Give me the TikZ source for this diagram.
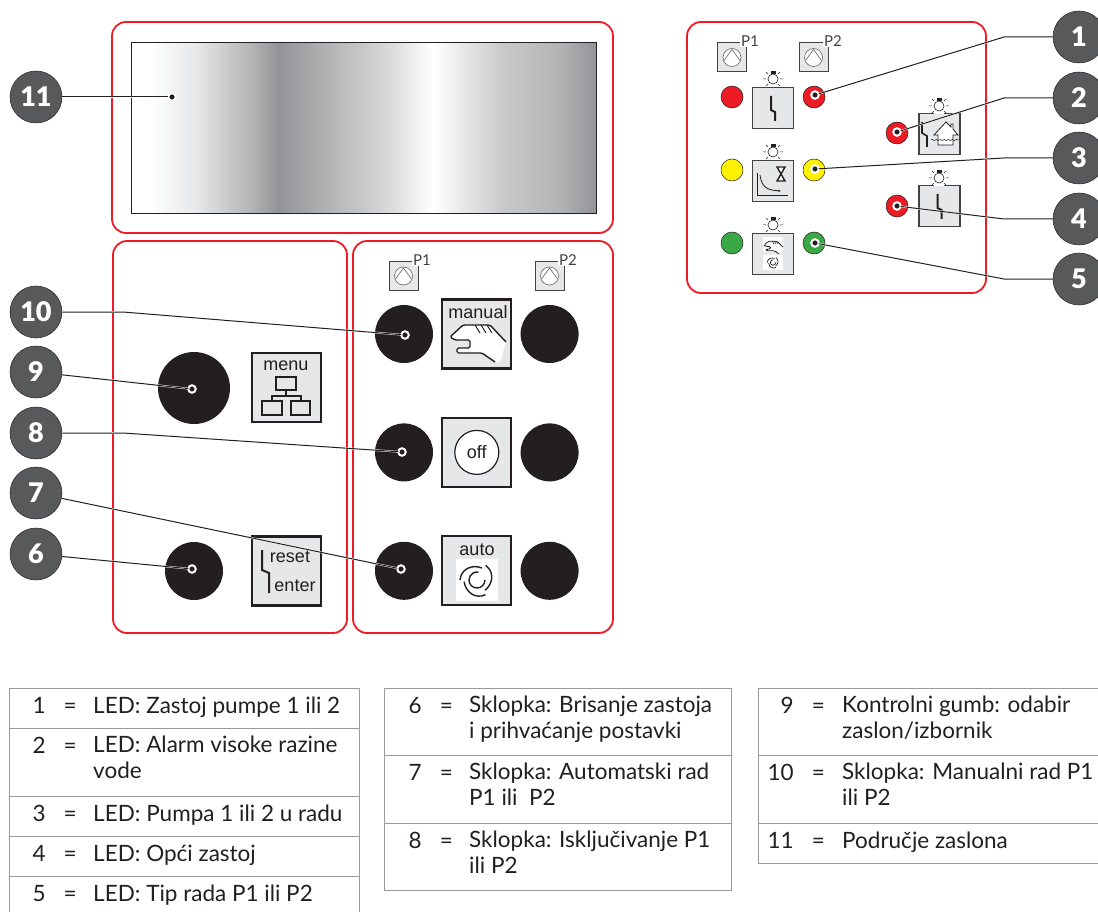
\documentclass[tikz,border=0pt]{standalone}
\usepackage{tikz}
\usepackage{fontspec}
\setmainfont{Liberation Sans}
\newfontfamily\legendfont{Lato}
\newfontfamily\calloutfont{Lato Black}
\usetikzlibrary{arrows.meta, positioning, decorations.pathmorphing}

\definecolor{panelred}{HTML}{ED1C24}
\definecolor{inkblack}{HTML}{231F20}
\definecolor{calloutgray}{HTML}{58595B}
\definecolor{boxgray}{HTML}{E6E7E8}
\definecolor{rulegray}{HTML}{999A9C}
\definecolor{ledyellow}{HTML}{FFF200}
\definecolor{ledgreen}{HTML}{39A845}
\definecolor{displaygray}{HTML}{929497}

\pgfdeclarehorizontalshading{displayglow}{100bp}{
color(0bp)=(white); color(25bp)=(white); color(27bp)=(white);
color(32bp)=(boxgray); color(38bp)=(displaygray!70); color(40.8bp)=(displaygray);
color(46bp)=(displaygray!72); color(52bp)=(displaygray!40); color(57.5bp)=(white);
color(65bp)=(displaygray!50); color(71bp)=(displaygray!70); color(75bp)=(displaygray);
color(100bp)=(displaygray)}

\begin{document}
\begin{tikzpicture}[
x=1pt, y=-1pt,
node distance=8pt,
panel/.style={draw=panelred, line width=1.8pt, rounded corners=14pt, minimum width=#1},
knob/.style={circle, fill=inkblack, inner sep=0pt, minimum size=#1},
knob/.default=58pt,
led/.style={circle, fill=#1, draw=inkblack, line width=0.5pt, inner sep=0pt, minimum size=22pt},
spot/.style={circle, fill=inkblack, draw=white, line width=2pt, inner sep=0pt, outer sep=0pt, minimum size=7.5pt},
callout/.style={circle, fill=calloutgray, draw=inkblack, line width=0.5pt, text=white, inner sep=0pt, minimum size=52pt, font=\calloutfont\fontsize{27}{27}\selectfont},
leader/.style={draw=inkblack, line width=1pt, preaction={draw=white, line width=1.8pt}},
button/.style={draw=inkblack, line width=2.2pt, fill=boxgray, inner sep=0pt, minimum size=69pt},
iconbox/.style={draw=inkblack!85, line width=1.2pt, fill=boxgray, inner sep=0pt, minimum size=41pt},
pumpbox/.style={draw=inkblack!85, line width=1pt, fill=boxgray, inner sep=0pt, minimum size=29pt},
tag/.style={fill=white, inner sep=1pt, text=inkblack!85, font=\legendfont\fontsize{15}{15}\selectfont},
caption/.style={inner sep=0pt, text=inkblack, font=\fontsize{18}{18}\selectfont},
whitepatch/.style={fill=white, inner sep=0pt, minimum size=#1},
legendnum/.style={anchor=north east, inner sep=0pt, text=inkblack, font=\legendfont\fontsize{22.5}{26}\selectfont, execute at begin node={\strut}},
legendtxt/.style={anchor=north west, inner sep=0pt, align=left, text=inkblack, font=\legendfont\fontsize{22.5}{26}\selectfont, execute at begin node={\strut}},
legendrule/.style={draw=rulegray, line width=1pt},
bolt/.pic={\draw[inkblack, line width=2pt] (-2,-12) -- (-2,2) -- (2,4) -- (2,13);},
lamp/.pic={
  \fill[white] (-5,5) rectangle (5,8.5);
  \draw[inkblack, line width=0.6pt] (0,0) circle[radius=5];
  \fill[inkblack] (-2.5,-8) rectangle (2.5,-5);
  \draw[inkblack, line width=0.5pt] (0:7) -- (0:10) (180:7) -- (180:10) (45:7) -- (45:10) (135:7) -- (135:10) (-45:7) -- (-45:10) (-135:7) -- (-135:10);
},
pump/.pic={
  \draw[inkblack!70, fill=white, line width=0.6pt] (0,0) circle[radius=9];
  \draw[inkblack!70, line width=0.6pt] (-8,3) -- (0,-8) -- (8,3);
},
fan/.pic={
  \draw[inkblack, line width=#1] (-17,0) .. controls (-16,-11) and (-5,-16) .. (5,-12);
  \draw[inkblack, line width=#1, rotate=120] (-17,0) .. controls (-16,-11) and (-5,-16) .. (5,-12);
  \draw[inkblack, line width=#1, rotate=240] (-17,0) .. controls (-16,-11) and (-5,-16) .. (5,-12);
  \draw[inkblack, line width=#1] (8,0) arc[start angle=0, end angle=280, radius=8];
},
hand/.pic={
  \fill[white] (-27,4) -- (-14,-8) -- (13,-8) -- (29,9) -- (23,29) -- (18,29) -- (5,20) -- (-20,20) -- (-20,15) -- (-7,15) -- (-7,7) -- (-22,7) -- cycle;
  \draw[inkblack, line width=#1, line join=round, rounded corners=1.5pt] (18,29) -- (5,20) -- (-20,20) -- (-20,15) -- (-7,15) -- (-7,7) -- (-22,7) -- (-27,4) -- (-14,-8) -- (13,-8) -- (29,9);
  \draw[inkblack, line width=0.7*#1] (-2,-8) -- (3,0) (4,-8) -- (9,0) (10,-8) -- (15,0);
}
]
\useasboundingbox (0,0) rectangle (1098,912);

% red panels
\node[panel=501pt, minimum height=211pt] (panelDisplay) at (362.5,127.5) {};
\node[panel=234pt, minimum height=392pt] (panelMenu) at (230,437) {};
\node[panel=260pt, minimum height=392pt] (panelMode) at (483,437) {};
\node[panel=299pt, minimum height=271pt] (panelLeds) at (836.5,157.5) {};

% display
\node[draw=inkblack, line width=1pt, shade, shading=displayglow, inner sep=0pt, minimum width=465pt, minimum height=171pt] (display) at (363.5,128.5) {};
\node[spot] (spotDisplay) at (172,97) {};

% menu and reset
\node[knob=72pt] (knobMenu) at (194,388) {};
\node[spot] (spotMenu) at (192,389) {};
\node[button] (btnMenu) at (286.5,387.5) {};
\node[caption] (txtMenu) at (286,366) {menu};
\draw[inkblack, line width=1.2pt] (276,377) rectangle (296,390) (262,401) rectangle (282,415) (291,401) rectangle (310,415) (286,390) -- (286,396) (272,401) -- (272,396) -- (301,396) -- (301,401);
\node[knob] (knobReset) at (194,571) {};
\node[spot] (spotReset) at (192,569) {};
\node[button] (btnReset) at (286.5,571) {};
\draw[inkblack, line width=2pt] (262,550) -- (262,570) -- (269,573) -- (269,593);
\node[caption] (txtReset) at (290,557) {reset};
\node[caption] (txtEnter) at (295,586) {enter};

% mode buttons
\node[knob] (knobManualL) at (404,334) {};
\node[button, right=of knobManualL] (btnManual) {};
\node[knob, right=of btnManual] (knobManualR) {};
\node[knob, below=60pt of knobManualL] (knobOffL) {};
\node[button, right=of knobOffL] (btnOff) {};
\node[knob, right=of btnOff] (knobOffR) {};
\node[knob, below=60pt of knobOffL] (knobAutoL) {};
\node[button, right=of knobAutoL] (btnAuto) {};
\node[knob, right=of btnAuto] (knobAutoR) {};
\node[spot] (spotManual) at (405,335) {};
\node[spot] (spotOff) at (402,452) {};
\node[spot] (spotAuto) at (401,569) {};

\node[caption] (txtManual) at (478,312) {manual};
\pic at (477,333) {hand=1.4pt};
\node[circle, draw=inkblack, line width=1.2pt, fill=white, inner sep=0pt, minimum size=44pt, font=\fontsize{18}{18}\selectfont, text=inkblack] (txtOff) at (btnOff) {off};
\node[whitepatch=42pt] (patchAuto) at (477,580) {};
\node[caption] (txtAuto) at (477,550) {auto};
\pic at (477,580) {fan=1.4pt};

\node[pumpbox] (pumpModeA) at (403.5,276) {};
\pic at (pumpModeA) {pump};
\node[tag] (tagModeA) at (422,260) {P1};
\node[pumpbox] (pumpModeB) at (549.5,276) {};
\pic at (pumpModeB) {pump};
\node[tag] (tagModeB) at (568,260) {P2};

% led panel
\node[pumpbox] (pumpLedA) at (732,57.5) {};
\pic at (pumpLedA) {pump};
\node[tag] (tagLedA) at (750,41) {P1};
\node[pumpbox] (pumpLedB) at (813.5,57.5) {};
\pic at (pumpLedB) {pump};
\node[tag] (tagLedB) at (833,41) {P2};

\node[led=panelred] (ledFaultL) at (732,97) {};
\node[iconbox] (iconFault) at (773,108) {};
\node[led=panelred] (ledFaultR) at (814,97) {};
\node[spot] (spotFault) at (815,95) {};
\pic at (iconFault) {bolt};
\pic at (773,79) {lamp};

\node[led=ledyellow] (ledRunL) at (732,170) {};
\node[iconbox] (iconRun) at (773,181) {};
\node[led=ledyellow] (ledRunR) at (814,170) {};
\node[spot] (spotRun) at (815,169) {};
\draw[inkblack, line width=0.8pt] (757,173) -- (757,195) -- (788,195);
\draw[inkblack, line width=0.8pt, -{Stealth[length=3pt]}] (760,175) .. controls (762,190) and (770,190) .. (781,191);
\draw[inkblack, fill=white, line width=1.4pt] (777,167) -- (785,167) -- (777,181) -- (785,181) -- cycle;
\pic at (773,152) {lamp};

\node[led=ledgreen] (ledModeL) at (732,243) {};
\node[iconbox] (iconMode) at (773,254) {};
\node[led=ledgreen] (ledModeR) at (814,243) {};
\node[spot] (spotMode) at (815,243) {};
\node[whitepatch=15pt, minimum width=20pt] (patchHand) at (773,244.5) {};
\node[whitepatch=15pt, minimum width=20pt] (patchFan) at (773,262.5) {};
\pic[scale=0.34] at (773,244) {hand=0.8pt};
\pic[scale=0.34] at (773,262.5) {fan=0.7pt};
\pic at (773,225) {lamp};

\node[led=panelred] (ledWater) at (897,133) {};
\node[iconbox] (iconWater) at (939.5,134) {};
\node[spot] (spotWater) at (897,132) {};
\draw[inkblack, line width=1.6pt] (922,122) -- (922,133) -- (927,136) -- (927,147);
\draw[inkblack, fill=white, line width=0.8pt] (938,145) -- (938,135) -- (934,135) -- (946,122) -- (951,127) -- (951,124) -- (953,124) -- (953,129) -- (958,135) -- (953,135) -- (953,145) -- cycle;
\draw[inkblack, line width=0.5pt, decorate, decoration={snake, amplitude=0.6pt, segment length=4pt}] (931,140) -- (959,140);
\pic at (939,106) {lamp};

\node[led=panelred] (ledGeneral) at (897,206) {};
\node[iconbox] (iconGeneral) at (939.5,206) {};
\node[spot] (spotGeneral) at (897,206) {};
\pic at (iconGeneral) {bolt};
\pic at (939,178) {lamp};

% callouts
\node[callout] (c1) at (1079,37) {1};
\node[callout] (c2) at (1079,98) {2};
\node[callout] (c3) at (1079,158) {3};
\node[callout] (c4) at (1079,219) {4};
\node[callout] (c5) at (1079,279) {5};
\node[callout] (c6) at (36,554) {6};
\node[callout] (c7) at (36,493) {7};
\node[callout] (c8) at (36,433) {8};
\node[callout] (c9) at (36,372) {9};
\node[callout] (c10) at (36,312) {10};
\node[callout] (c11) at (36,97) {11};

\draw[leader] (c1) -- (1004,37) -- (spotFault);
\draw[leader] (c2) -- (1004,98) -- (spotWater);
\draw[leader] (c3) -- (1004,158) -- (spotRun);
\draw[leader] (c4) -- (1004,219) -- (spotGeneral);
\draw[leader] (c5) -- (1004,279) -- (spotMode);
\draw[leader] (c6) -- (spotReset);
\draw[leader] (c7) -- (spotAuto);
\draw[leader] (c8) -- (123,433) -- (spotOff);
\draw[leader] (c9) -- (spotMenu);
\draw[leader] (c10) -- (123,312) -- (spotManual);
\draw[leader] (c11) -- (spotDisplay);

% legend rules
\draw[legendrule] (9,912) -- (9,688) -- (359,688) -- (359,912) (9,728) -- (359,728) (9,796) -- (359,796) (9,836) -- (359,836) (9,876) -- (359,876);
\draw[legendrule] (384,688) rectangle (731,890) (384,755) -- (731,755) (384,823) -- (731,823);
\draw[legendrule] (758,688) rectangle (1102,863) (758,755) -- (1102,755) (758,823) -- (1102,823);

% legend text
\node[legendnum] (num1) at (77,695.5) {1\hspace{18pt}=};
\node[legendtxt] (txt1) at (93,695.5) {LED: Zastoj pumpe 1 ili 2};
\node[legendnum] (num2) at (77,735.5) {2\hspace{18pt}=};
\node[legendtxt] (txt2) at (93,735.5) {LED: Alarm visoke razine\\vode};
\node[legendnum] (num3) at (77,803.5) {3\hspace{18pt}=};
\node[legendtxt] (txt3) at (93,803.5) {LED: Pumpa 1 ili 2 u radu};
\node[legendnum] (num4) at (77,843.5) {4\hspace{18pt}=};
\node[legendtxt] (txt4) at (93,843.5) {LED: Opći zastoj};
\node[legendnum] (num5) at (77,883.5) {5\hspace{18pt}=};
\node[legendtxt] (txt5) at (93,883.5) {LED: Tip rada P1 ili P2};

\node[legendnum] (num6) at (453,695.5) {6\hspace{18pt}=};
\node[legendtxt] (txt6) at (469,695.5) {Sklopka: Brisanje zastoja\\i prihvaćanje postavki};
\node[legendnum] (num7) at (453,762.5) {7\hspace{18pt}=};
\node[legendtxt] (txt7) at (469,762.5) {Sklopka: Automatski rad\\P1 ili~ P2};
\node[legendnum] (num8) at (453,830.5) {8\hspace{18pt}=};
\node[legendtxt] (txt8) at (469,830.5) {Sklopka: Isključivanje P1\\ili P2};

\node[legendnum] (num9) at (825,695.5) {9\hspace{18pt}=};
\node[legendtxt] (txt9) at (842,695.5) {Kontrolni gumb: odabir\\zaslon/izbornik};
\node[legendnum] (num10) at (825,762.5) {10\hspace{18pt}=};
\node[legendtxt] (txt10) at (842,762.5) {Sklopka: Manualni rad P1\\ili P2};
\node[legendnum] (num11) at (825,830.5) {11\hspace{18pt}=};
\node[legendtxt] (txt11) at (842,830.5) {Područje zaslona};

\end{tikzpicture}
\end{document}
